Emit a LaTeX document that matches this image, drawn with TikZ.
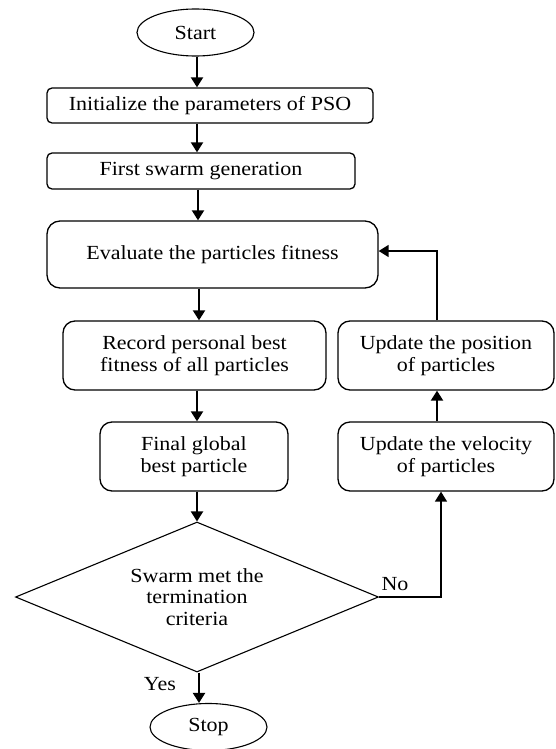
\documentclass[tikz,border=0pt]{standalone}
\usepackage{fontspec}
\setmainfont{Liberation Serif}[FakeStretch=1.1]
\usetikzlibrary{shapes.geometric,arrows.meta}
\begin{document}
\begin{tikzpicture}[x=1pt,y=-1pt,
  every node/.style={font=\fontsize{20}{21.5}\selectfont, text=black, inner sep=0pt, align=center},
  terminal/.style={draw, ellipse, line width=1.1pt, minimum width=117pt, minimum height=47pt},
  procbox/.style={draw, rounded corners=#1, line width=1.3pt},
  procbox/.default=5pt,
  decision/.style={draw, diamond, line width=1.1pt, minimum width=363pt, minimum height=150pt, aspect=2.4},
  arr/.style={line width=2pt, -{Triangle[length=10pt,width=12pt]}},
  farr/.style={line width=1.5pt, -{Triangle[length=10pt,width=12pt]}},
  lbl/.style={font=\fontsize{20}{21.5}\selectfont}
]
\useasboundingbox (0,0) rectangle (555,749);

\node[terminal] (start) at (195.5,32.5) {Start};
\node[procbox, minimum width=326pt, minimum height=35pt] (init) at (210,105.5) {Initialize the parameters of PSO};
\node[procbox, minimum width=308pt, minimum height=36pt] (first) at (201,171) {First swarm generation};
\node[procbox=13pt, minimum width=331pt, minimum height=67pt] (eval) at (212.5,254.5) {Evaluate the particles fitness};
\node[procbox=12pt, minimum width=263pt, minimum height=69pt] (record) at (194.5,355.5) {Record personal best\\fitness of all particles};
\node[procbox=12pt, minimum width=188pt, minimum height=69pt] (final) at (194,456.5) {Final global\\best particle};
\node[procbox=12pt, minimum width=216pt, minimum height=69pt] (pos) at (446,355.5) {Update the position\\of particles};
\node[procbox=12pt, minimum width=216pt, minimum height=69pt] (vel) at (446,456.5) {Update the velocity\\of particles};
\node[decision] (dec) at (197,597) {Swarm met the\\termination\\criteria};
\node[terminal] (stop) at (208.5,727) {Stop};

\node[lbl] (no) at (395,584) {No};
\node[lbl] (yes) at (160,684) {Yes};

% main flow
\draw[arr] ([xshift=1.5pt]start.south) -- ([xshift=1.5pt]start.south |- init.north);
\draw[arr] ([xshift=1.5pt]init.south -| start.south) -- ([xshift=1.5pt]first.north -| start.south);
\draw[arr] ([xshift=2.5pt]first.south -| start.south) -- ([xshift=2.5pt]eval.north -| start.south);
\draw[arr] ([xshift=3.5pt]eval.south -| start.south) -- ([xshift=3.5pt]record.north -| start.south);
\draw[arr] (record.south -| dec.north) -- (final.north -| dec.north);
\draw[arr] (final.south -| dec.north) -- (dec.north);
\draw[arr] ([xshift=2pt]dec.south) -- ([xshift=2pt]dec.south |- stop.north);

% loop
\draw[farr] (dec.east) -| ([xshift=-5pt]vel.south);
\draw[arr] ([xshift=-9pt]vel.north) -- ([xshift=-9pt]pos.south);
\draw[farr] ([xshift=-9pt]pos.north) |- ([yshift=3.5pt]eval.east);
\end{tikzpicture}
\end{document}
